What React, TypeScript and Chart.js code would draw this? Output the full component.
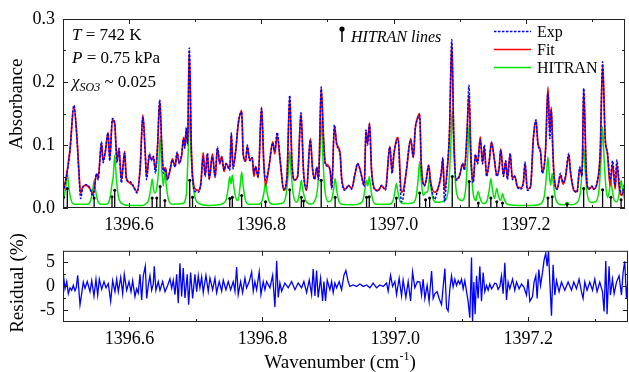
import React, { useEffect, useRef } from 'react';
import { Chart, registerables } from 'chart.js';

Chart.register(...registerables);

const SERIF = "'Liberation Serif', 'Times New Roman', Times, serif";
Chart.defaults.font.family = SERIF;
Chart.defaults.color = '#000';

// ---------------- data ----------------
const xTicks = [1396.5, 1396.6, 1396.7, 1396.8, 1396.9, 1397.0, 1397.1, 1397.2, 1397.3];
const xTickLabels = ['', '1396.6', '', '1396.8', '', '1397.0', '', '1397.2', ''];
const absTicks = [0, 0.05, 0.1, 0.15, 0.2, 0.25, 0.3];
const absTickLabels = ['0.0', '', '0.1', '', '0.2', '', '0.3'];
const resTicks = [-5, -2.5, 0, 2.5, 5];
const resTickLabels = ['-5', '', '0', '', '5'];

// Experimental absorbance [wavenumber, absorbance]
const expPoints: [number, number][] = [
  [1396.5000, 0.025], [1396.5045, 0.045], [1396.5105, 0.090], [1396.5165, 0.163], [1396.5211, 0.110],
  [1396.5241, 0.055], [1396.5266, 0.015], [1396.5301, 0.033], [1396.5353, 0.037], [1396.5406, 0.032],
  [1396.5456, 0.018], [1396.5507, 0.055], [1396.5531, 0.045], [1396.5582, 0.105], [1396.5606, 0.072],
  [1396.5642, 0.092], [1396.5681, 0.119], [1396.5707, 0.075], [1396.5747, 0.142], [1396.5782, 0.133],
  [1396.5817, 0.072], [1396.5847, 0.095], [1396.5883, 0.040], [1396.5907, 0.066], [1396.5932, 0.087],
  [1396.5958, 0.045], [1396.6008, 0.042], [1396.6053, 0.037], [1396.6083, 0.030], [1396.6120, 0.024],
  [1396.6168, 0.065], [1396.6208, 0.145], [1396.6244, 0.085], [1396.6263, 0.045], [1396.6308, 0.087],
  [1396.6334, 0.075], [1396.6368, 0.082], [1396.6398, 0.055], [1396.6429, 0.097], [1396.6463, 0.172],
  [1396.6493, 0.100], [1396.6519, 0.055], [1396.6549, 0.062], [1396.6579, 0.044], [1396.6620, 0.062],
  [1396.6654, 0.076], [1396.6695, 0.065], [1396.6725, 0.089], [1396.6759, 0.070], [1396.6794, 0.085],
  [1396.6824, 0.110], [1396.6842, 0.095], [1396.6865, 0.128], [1396.6884, 0.100], [1396.6910, 0.254],
  [1396.6944, 0.081], [1396.6974, 0.034], [1396.7000, 0.026], [1396.7045, 0.025], [1396.7086, 0.039],
  [1396.7120, 0.081], [1396.7150, 0.050], [1396.7185, 0.087], [1396.7211, 0.047], [1396.7260, 0.081],
  [1396.7301, 0.050], [1396.7335, 0.097], [1396.7372, 0.072], [1396.7402, 0.080], [1396.7436, 0.060],
  [1396.7466, 0.070], [1396.7522, 0.060], [1396.7546, 0.119], [1396.7571, 0.062], [1396.7612, 0.092],
  [1396.7651, 0.135], [1396.7702, 0.152], [1396.7726, 0.084], [1396.7762, 0.075], [1396.7787, 0.100],
  [1396.7823, 0.075], [1396.7862, 0.080], [1396.7887, 0.055], [1396.7913, 0.065], [1396.7952, 0.050],
  [1396.8003, 0.158], [1396.8038, 0.070], [1396.8063, 0.044], [1396.8113, 0.065], [1396.8173, 0.103],
  [1396.8203, 0.090], [1396.8238, 0.120], [1396.8289, 0.072], [1396.8338, 0.030], [1396.8388, 0.050],
  [1396.8429, 0.179], [1396.8463, 0.070], [1396.8504, 0.045], [1396.8549, 0.050], [1396.8599, 0.151],
  [1396.8639, 0.055], [1396.8684, 0.030], [1396.8740, 0.108], [1396.8775, 0.060], [1396.8805, 0.045],
  [1396.8839, 0.065], [1396.8865, 0.045], [1396.8905, 0.192], [1396.8940, 0.110], [1396.8966, 0.070],
  [1396.9005, 0.066], [1396.9041, 0.060], [1396.9065, 0.030], [1396.9105, 0.132], [1396.9140, 0.100],
  [1396.9191, 0.085], [1396.9215, 0.045], [1396.9266, 0.028], [1396.9316, 0.036], [1396.9366, 0.030],
  [1396.9417, 0.055], [1396.9456, 0.071], [1396.9492, 0.060], [1396.9516, 0.050], [1396.9557, 0.034],
  [1396.9582, 0.124], [1396.9606, 0.100], [1396.9636, 0.133], [1396.9666, 0.060], [1396.9717, 0.029],
  [1396.9767, 0.027], [1396.9817, 0.036], [1396.9877, 0.028], [1396.9943, 0.097], [1396.9978, 0.055],
  [1397.0003, 0.085], [1397.0042, 0.105], [1397.0068, 0.110], [1397.0117, 0.010], [1397.0143, 0.015],
  [1397.0193, 0.060], [1397.0259, 0.108], [1397.0298, 0.081], [1397.0328, 0.127], [1397.0358, 0.140],
  [1397.0394, 0.148], [1397.0418, 0.070], [1397.0469, 0.035], [1397.0493, 0.045], [1397.0530, 0.067],
  [1397.0560, 0.040], [1397.0620, 0.014], [1397.0669, 0.030], [1397.0719, 0.055], [1397.0745, 0.080],
  [1397.0770, 0.010], [1397.0809, 0.060], [1397.0845, 0.120], [1397.0880, 0.267], [1397.0910, 0.115],
  [1397.0945, 0.044], [1397.0996, 0.050], [1397.1045, 0.071], [1397.1071, 0.060], [1397.1110, 0.120],
  [1397.1140, 0.195], [1397.1170, 0.080], [1397.1206, 0.040], [1397.1236, 0.085], [1397.1271, 0.070],
  [1397.1311, 0.108], [1397.1346, 0.070], [1397.1372, 0.100], [1397.1406, 0.050], [1397.1447, 0.075],
  [1397.1481, 0.103], [1397.1522, 0.080], [1397.1561, 0.050], [1397.1597, 0.065], [1397.1621, 0.092],
  [1397.1662, 0.050], [1397.1696, 0.075], [1397.1722, 0.045], [1397.1763, 0.087], [1397.1797, 0.045],
  [1397.1832, 0.050], [1397.1872, 0.033], [1397.1922, 0.030], [1397.1963, 0.040], [1397.1988, 0.073],
  [1397.2023, 0.028], [1397.2072, 0.035], [1397.2113, 0.108], [1397.2154, 0.140], [1397.2184, 0.100],
  [1397.2223, 0.087], [1397.2248, 0.055], [1397.2298, 0.090], [1397.2334, 0.182], [1397.2364, 0.110],
  [1397.2384, 0.155], [1397.2409, 0.090], [1397.2424, 0.055], [1397.2474, 0.030], [1397.2524, 0.055],
  [1397.2564, 0.040], [1397.2599, 0.050], [1397.2650, 0.087], [1397.2674, 0.060], [1397.2725, 0.030],
  [1397.2775, 0.025], [1397.2815, 0.065], [1397.2850, 0.050], [1397.2875, 0.190], [1397.2915, 0.055],
  [1397.2951, 0.030], [1397.3000, 0.035], [1397.3026, 0.030], [1397.3075, 0.040], [1397.3125, 0.090],
  [1397.3161, 0.232], [1397.3200, 0.110], [1397.3236, 0.087], [1397.3275, 0.045], [1397.3312, 0.075],
  [1397.3351, 0.035], [1397.3376, 0.076], [1397.3417, 0.035], [1397.3451, 0.022], [1397.3497, 0.040],
];

// Fitted absorbance [wavenumber, absorbance]
const fitPoints: [number, number][] = [
  [1396.5000, 0.026], [1396.5045, 0.047], [1396.5105, 0.092], [1396.5165, 0.161], [1396.5211, 0.112],
  [1396.5241, 0.058], [1396.5266, 0.024], [1396.5301, 0.034], [1396.5353, 0.036], [1396.5406, 0.031],
  [1396.5456, 0.022], [1396.5507, 0.054], [1396.5531, 0.047], [1396.5582, 0.103], [1396.5606, 0.075],
  [1396.5642, 0.090], [1396.5681, 0.120], [1396.5707, 0.078], [1396.5747, 0.140], [1396.5782, 0.135],
  [1396.5817, 0.075], [1396.5847, 0.093], [1396.5883, 0.045], [1396.5907, 0.065], [1396.5932, 0.090],
  [1396.5958, 0.048], [1396.6008, 0.040], [1396.6053, 0.036], [1396.6083, 0.031], [1396.6120, 0.026],
  [1396.6168, 0.066], [1396.6208, 0.148], [1396.6244, 0.088], [1396.6263, 0.050], [1396.6308, 0.084],
  [1396.6334, 0.078], [1396.6368, 0.080], [1396.6398, 0.060], [1396.6429, 0.095], [1396.6463, 0.170],
  [1396.6493, 0.102], [1396.6519, 0.060], [1396.6549, 0.064], [1396.6579, 0.046], [1396.6620, 0.060],
  [1396.6654, 0.078], [1396.6695, 0.066], [1396.6725, 0.087], [1396.6759, 0.072], [1396.6794, 0.083],
  [1396.6824, 0.112], [1396.6842, 0.097], [1396.6865, 0.126], [1396.6884, 0.103], [1396.6910, 0.250],
  [1396.6944, 0.085], [1396.6974, 0.038], [1396.7000, 0.030], [1396.7045, 0.028], [1396.7086, 0.040],
  [1396.7120, 0.088], [1396.7150, 0.052], [1396.7185, 0.085], [1396.7211, 0.045], [1396.7260, 0.086],
  [1396.7301, 0.048], [1396.7335, 0.094], [1396.7372, 0.070], [1396.7402, 0.082], [1396.7436, 0.058],
  [1396.7466, 0.071], [1396.7522, 0.062], [1396.7546, 0.117], [1396.7571, 0.065], [1396.7612, 0.090],
  [1396.7651, 0.133], [1396.7702, 0.155], [1396.7726, 0.086], [1396.7762, 0.074], [1396.7787, 0.098],
  [1396.7823, 0.077], [1396.7862, 0.079], [1396.7887, 0.050], [1396.7913, 0.066], [1396.7952, 0.048],
  [1396.8003, 0.160], [1396.8038, 0.068], [1396.8063, 0.036], [1396.8113, 0.063], [1396.8173, 0.105],
  [1396.8203, 0.086], [1396.8238, 0.115], [1396.8289, 0.070], [1396.8338, 0.028], [1396.8388, 0.052],
  [1396.8429, 0.176], [1396.8463, 0.072], [1396.8504, 0.044], [1396.8549, 0.051], [1396.8599, 0.150],
  [1396.8639, 0.057], [1396.8684, 0.028], [1396.8740, 0.110], [1396.8775, 0.062], [1396.8805, 0.046],
  [1396.8839, 0.064], [1396.8865, 0.047], [1396.8905, 0.190], [1396.8940, 0.112], [1396.8966, 0.072],
  [1396.9005, 0.068], [1396.9041, 0.058], [1396.9065, 0.032], [1396.9105, 0.130], [1396.9140, 0.102],
  [1396.9191, 0.087], [1396.9215, 0.048], [1396.9266, 0.030], [1396.9316, 0.035], [1396.9366, 0.032],
  [1396.9417, 0.054], [1396.9456, 0.070], [1396.9492, 0.062], [1396.9516, 0.051], [1396.9557, 0.036],
  [1396.9582, 0.122], [1396.9606, 0.102], [1396.9636, 0.135], [1396.9666, 0.062], [1396.9717, 0.030],
  [1396.9767, 0.028], [1396.9817, 0.035], [1396.9877, 0.030], [1396.9943, 0.098], [1396.9978, 0.056],
  [1397.0003, 0.083], [1397.0042, 0.108], [1397.0068, 0.112], [1397.0117, 0.025], [1397.0143, 0.027],
  [1397.0193, 0.058], [1397.0259, 0.110], [1397.0298, 0.080], [1397.0328, 0.126], [1397.0358, 0.142],
  [1397.0394, 0.150], [1397.0418, 0.072], [1397.0469, 0.036], [1397.0493, 0.044], [1397.0530, 0.068],
  [1397.0560, 0.042], [1397.0620, 0.025], [1397.0669, 0.030], [1397.0719, 0.052], [1397.0745, 0.078],
  [1397.0770, 0.028], [1397.0809, 0.058], [1397.0845, 0.118], [1397.0880, 0.262], [1397.0910, 0.118],
  [1397.0945, 0.046], [1397.0996, 0.051], [1397.1045, 0.070], [1397.1071, 0.062], [1397.1110, 0.118],
  [1397.1140, 0.180], [1397.1170, 0.082], [1397.1206, 0.043], [1397.1236, 0.084], [1397.1271, 0.072],
  [1397.1311, 0.113], [1397.1346, 0.072], [1397.1372, 0.098], [1397.1406, 0.052], [1397.1447, 0.074],
  [1397.1481, 0.105], [1397.1522, 0.078], [1397.1561, 0.052], [1397.1597, 0.064], [1397.1621, 0.094],
  [1397.1662, 0.052], [1397.1696, 0.074], [1397.1722, 0.047], [1397.1763, 0.085], [1397.1797, 0.047],
  [1397.1832, 0.051], [1397.1872, 0.034], [1397.1922, 0.032], [1397.1963, 0.041], [1397.1988, 0.070],
  [1397.2023, 0.030], [1397.2072, 0.034], [1397.2113, 0.110], [1397.2154, 0.138], [1397.2184, 0.102],
  [1397.2223, 0.090], [1397.2248, 0.058], [1397.2298, 0.092], [1397.2334, 0.192], [1397.2364, 0.120],
  [1397.2384, 0.160], [1397.2409, 0.092], [1397.2424, 0.056], [1397.2474, 0.030], [1397.2524, 0.052],
  [1397.2564, 0.038], [1397.2599, 0.048], [1397.2650, 0.084], [1397.2674, 0.058], [1397.2725, 0.028],
  [1397.2775, 0.026], [1397.2815, 0.062], [1397.2850, 0.052], [1397.2875, 0.188], [1397.2915, 0.056],
  [1397.2951, 0.030], [1397.3000, 0.034], [1397.3026, 0.030], [1397.3075, 0.038], [1397.3125, 0.088],
  [1397.3161, 0.228], [1397.3200, 0.112], [1397.3236, 0.085], [1397.3275, 0.035], [1397.3312, 0.070],
  [1397.3351, 0.030], [1397.3376, 0.070], [1397.3417, 0.028], [1397.3451, 0.020], [1397.3497, 0.035],
];

// HITRAN simulated absorbance [wavenumber, absorbance]
const hitranPoints: [number, number][] = [
  [1396.5000, 0.011], [1396.5042, 0.033], [1396.5065, 0.055], [1396.5088, 0.033], [1396.5118, 0.014], [1396.5170, 0.006],
  [1396.5366, 0.006], [1396.5418, 0.012], [1396.5448, 0.027], [1396.5471, 0.044], [1396.5494, 0.027], [1396.5524, 0.012], [1396.5576, 0.006],
  [1396.5660, 0.006], [1396.5700, 0.012], [1396.5725, 0.025], [1396.5741, 0.038], [1396.5760, 0.050], [1396.5782, 0.084], [1396.5805, 0.050], [1396.5835, 0.020], [1396.5887, 0.007],
  [1396.6000, 0.004], [1396.6200, 0.004],
  [1396.6244, 0.006], [1396.6296, 0.013], [1396.6326, 0.029], [1396.6349, 0.046], [1396.6372, 0.028], [1396.6395, 0.024], [1396.6418, 0.032],
  [1396.6446, 0.060], [1396.6469, 0.113], [1396.6492, 0.065], [1396.6518, 0.035], [1396.6541, 0.057], [1396.6564, 0.034], [1396.6594, 0.014], [1396.6646, 0.006],
  [1396.6810, 0.007], [1396.6864, 0.020], [1396.6894, 0.090], [1396.6917, 0.148], [1396.6940, 0.085], [1396.6959, 0.045], [1396.6990, 0.020], [1396.7040, 0.008],
  [1396.7200, 0.004], [1396.7350, 0.005],
  [1396.7417, 0.007], [1396.7469, 0.014], [1396.7499, 0.032], [1396.7522, 0.050], [1396.7542, 0.038], [1396.7561, 0.052], [1396.7584, 0.034], [1396.7614, 0.016],
  [1396.7649, 0.012], [1396.7679, 0.035], [1396.7702, 0.057], [1396.7725, 0.035], [1396.7755, 0.014], [1396.7807, 0.006],
  [1396.7958, 0.006], [1396.8010, 0.011], [1396.8040, 0.025], [1396.8063, 0.040], [1396.8086, 0.025], [1396.8116, 0.011], [1396.8168, 0.006],
  [1396.8324, 0.008], [1396.8376, 0.022], [1396.8406, 0.055], [1396.8429, 0.090], [1396.8452, 0.055], [1396.8482, 0.022], [1396.8534, 0.009],
  [1396.8552, 0.011], [1396.8582, 0.028], [1396.8605, 0.044], [1396.8625, 0.030], [1396.8645, 0.020], [1396.8680, 0.010], [1396.8750, 0.006],
  [1396.8800, 0.010], [1396.8852, 0.033], [1396.8882, 0.085], [1396.8905, 0.140], [1396.8928, 0.085], [1396.8958, 0.032],
  [1396.9011, 0.010], [1396.9063, 0.013], [1396.9093, 0.030], [1396.9116, 0.047], [1396.9139, 0.029], [1396.9169, 0.012], [1396.9221, 0.006],
  [1396.9400, 0.005],
  [1396.9486, 0.007], [1396.9538, 0.013], [1396.9568, 0.030], [1396.9591, 0.044], [1396.9611, 0.035], [1396.9632, 0.050], [1396.9655, 0.031], [1396.9685, 0.013], [1396.9737, 0.006],
  [1396.9937, 0.006], [1396.9989, 0.011], [1397.0019, 0.025], [1397.0042, 0.039], [1397.0065, 0.025], [1397.0095, 0.011], [1397.0147, 0.007],
  [1397.0289, 0.008], [1397.0341, 0.018], [1397.0371, 0.045], [1397.0394, 0.074], [1397.0417, 0.045], [1397.0447, 0.020], [1397.0484, 0.025],
  [1397.0515, 0.026], [1397.0545, 0.050], [1397.0568, 0.030], [1397.0598, 0.014], [1397.0650, 0.009],
  [1397.0782, 0.012], [1397.0834, 0.036], [1397.0864, 0.095], [1397.0887, 0.156], [1397.0910, 0.094], [1397.0940, 0.035], [1397.0992, 0.014],
  [1397.1038, 0.012], [1397.1090, 0.030], [1397.1120, 0.080], [1397.1143, 0.132], [1397.1166, 0.080], [1397.1196, 0.030], [1397.1248, 0.012],
  [1397.1258, 0.018], [1397.1281, 0.026], [1397.1304, 0.017], [1397.1334, 0.009],
  [1397.1366, 0.007], [1397.1418, 0.013], [1397.1448, 0.030], [1397.1471, 0.047], [1397.1494, 0.030], [1397.1524, 0.015], [1397.1538, 0.020],
  [1397.1561, 0.031], [1397.1584, 0.020], [1397.1614, 0.012], [1397.1630, 0.015], [1397.1647, 0.023], [1397.1670, 0.015], [1397.1700, 0.008], [1397.1752, 0.005],
  [1397.1900, 0.004], [1397.2100, 0.004],
  [1397.2229, 0.007], [1397.2281, 0.020], [1397.2311, 0.050], [1397.2334, 0.081], [1397.2357, 0.050], [1397.2376, 0.036], [1397.2399, 0.055], [1397.2422, 0.034], [1397.2452, 0.014], [1397.2504, 0.006],
  [1397.2580, 0.005], [1397.2605, 0.007], [1397.2624, 0.009], [1397.2643, 0.007], [1397.2670, 0.005],
  [1397.2770, 0.008], [1397.2822, 0.023], [1397.2852, 0.060], [1397.2875, 0.097], [1397.2898, 0.059], [1397.2928, 0.023], [1397.2980, 0.009],
  [1397.3056, 0.010], [1397.3108, 0.030], [1397.3138, 0.078], [1397.3161, 0.129], [1397.3184, 0.078], [1397.3214, 0.030], [1397.3240, 0.017],
  [1397.3263, 0.027], [1397.3286, 0.044], [1397.3309, 0.027], [1397.3339, 0.012], [1397.3380, 0.010], [1397.3418, 0.027], [1397.3441, 0.044],
  [1397.3464, 0.028], [1397.3497, 0.012],
];

// HITRAN line positions and line heights [wavenumber, height]
const hitranLines: [number, number][] = [
  [1396.5008, 0.017], [1396.5065, 0.031], [1396.5471, 0.016], [1396.5741, 0.018], [1396.5782, 0.028],
  [1396.6349, 0.016], [1396.6418, 0.016], [1396.6469, 0.034], [1396.6541, 0.012], [1396.6917, 0.044],
  [1396.6959, 0.017], [1396.7522, 0.015], [1396.7561, 0.017], [1396.7702, 0.020], [1396.8063, 0.010],
  [1396.8429, 0.029], [1396.8605, 0.017], [1396.8639, 0.011], [1396.8905, 0.044], [1396.9116, 0.017],
  [1396.9591, 0.017], [1396.9632, 0.018], [1397.0042, 0.016], [1397.0394, 0.024], [1397.0484, 0.013],
  [1397.0545, 0.016], [1397.0887, 0.050], [1397.1143, 0.042], [1397.1281, 0.008], [1397.1471, 0.016],
  [1397.1561, 0.010], [1397.1647, 0.008], [1397.2334, 0.016], [1397.2399, 0.018], [1397.2624, 0.006],
  [1397.2875, 0.031], [1397.3161, 0.029], [1397.3286, 0.017], [1397.3441, 0.013],
];

// Residual (%) [wavenumber, residual]
const residualPoints: [number, number][] = [
  [1396.5005, 2.5], [1396.5030, -0.5], [1396.5056, 1], [1396.5080, -1.5], [1396.5105, -0.3], [1396.5131, -0.8],
  [1396.5155, 0.2], [1396.5180, -0.9], [1396.5200, -0.2], [1396.5221, 2.3], [1396.5256, -3.8], [1396.5281, -1.5],
  [1396.5305, 0.9], [1396.5331, -0.4], [1396.5365, 1], [1396.5406, -1.1], [1396.5432, 1.2], [1396.5466, -2],
  [1396.5496, 1.5], [1396.5522, -1.8], [1396.5546, 1.5], [1396.5582, -0.6], [1396.5617, 1], [1396.5647, -0.3],
  [1396.5681, 0.6], [1396.5717, -3.1], [1396.5747, 1.2], [1396.5782, -1.1], [1396.5808, 1.5], [1396.5832, -1.1],
  [1396.5868, 1.9], [1396.5898, -1.5], [1396.5922, 2.5], [1396.5958, -0.8], [1396.5993, 1], [1396.6023, -1.1],
  [1396.6048, 1.2], [1396.6083, -2.1], [1396.6108, -0.5], [1396.6132, -1.4], [1396.6158, 2.5], [1396.6183, -2.8],
  [1396.6208, 2.2], [1396.6238, 4.2], [1396.6259, -2.5], [1396.6283, 0.2], [1396.6308, 2.2], [1396.6334, -0.8],
  [1396.6358, 0.5], [1396.6373, 4.2], [1396.6398, -0.8], [1396.6433, 1], [1396.6459, -0.8], [1396.6499, 1],
  [1396.6534, -1.1], [1396.6574, 0.2], [1396.6609, 1.6], [1396.6635, -0.4], [1396.6659, 1.3], [1396.6684, -1.7],
  [1396.6710, 2.5], [1396.6734, -3.5], [1396.6759, 4.8], [1396.6785, -2.1], [1396.6809, 3.8], [1396.6835, -2.4],
  [1396.6869, 2.5], [1396.6890, -3.8], [1396.6920, 2.9], [1396.6950, -2.5], [1396.6985, 2.5], [1396.7011, -1.1],
  [1396.7035, 2.2], [1396.7060, -0.3], [1396.7086, 2], [1396.7110, -1.3], [1396.7150, 2.3], [1396.7185, -1],
  [1396.7211, 1.7], [1396.7251, -0.7], [1396.7286, 1.7], [1396.7311, -1.3], [1396.7350, 1], [1396.7387, -1],
  [1396.7411, 1.3], [1396.7451, -0.7], [1396.7486, 1], [1396.7522, -0.7], [1396.7561, 1], [1396.7587, -1],
  [1396.7612, 4], [1396.7636, -1.7], [1396.7672, 1], [1396.7702, -1.3], [1396.7737, 1.7], [1396.7762, -0.3],
  [1396.7802, 1], [1396.7838, 3], [1396.7862, -1], [1396.7887, 1], [1396.7913, -0.7], [1396.7952, 3],
  [1396.7978, -1.7], [1396.8012, 1], [1396.8038, -0.7], [1396.8063, 1], [1396.8113, -0.3], [1396.8154, 2.3],
  [1396.8188, -4.3], [1396.8214, 5.3], [1396.8238, -2.3], [1396.8263, 0.7], [1396.8289, -1], [1396.8338, 0.7],
  [1396.8388, -0.3], [1396.8439, 1], [1396.8489, -0.7], [1396.8538, 0.7], [1396.8590, -0.3], [1396.8624, 1],
  [1396.8665, -1.3], [1396.8704, 1.3], [1396.8740, -1.7], [1396.8764, 3.6], [1396.8790, -2], [1396.8815, 3.3],
  [1396.8839, -2.3], [1396.8875, 1.7], [1396.8905, -3], [1396.8925, 1], [1396.8950, -3], [1396.8975, 1.3],
  [1396.9015, -0.7], [1396.9041, 1], [1396.9065, -1.3], [1396.9090, 0.7], [1396.9116, -0.3], [1396.9155, 1],
  [1396.9191, -0.7], [1396.9226, 2.3], [1396.9256, 3.3], [1396.9290, 1], [1396.9316, 0], [1396.9366, 0.3],
  [1396.9417, 0], [1396.9466, 0.5], [1396.9516, 0], [1396.9567, 0.3], [1396.9617, -0.3], [1396.9666, 0.7],
  [1396.9717, -0.3], [1396.9767, 0.3], [1396.9817, 0], [1396.9868, 0.7], [1396.9892, -1], [1396.9928, 2.3],
  [1396.9958, 0], [1396.9993, 1], [1397.0018, -1.7], [1397.0057, 1.7], [1397.0093, -2], [1397.0117, 1.3],
  [1397.0158, -2.3], [1397.0193, 1], [1397.0229, -3], [1397.0259, 3], [1397.0293, -0.3], [1397.0331, 1],
  [1397.0369, 0.9], [1397.0394, -1.8], [1397.0418, 1.5], [1397.0444, -2.5], [1397.0478, 0.2], [1397.0508, -3.1],
  [1397.0545, 3.2], [1397.0569, -2.5], [1397.0594, -1.5], [1397.0629, -1.1], [1397.0659, -2.5], [1397.0695, -3.8],
  [1397.0745, 3.7], [1397.0770, -4.5], [1397.0794, -5.1], [1397.0820, -0.5], [1397.0845, 2.2], [1397.0869, -0.1],
  [1397.0895, 1.5], [1397.0920, 0.2], [1397.0945, 1.2], [1397.0970, 0.5], [1397.0996, 1.5], [1397.1020, -0.5],
  [1397.1045, 1.2], [1397.1071, -1.1], [1397.1095, -3.1], [1397.1120, -6.5], [1397.1146, 6], [1397.1161, -7.4],
  [1397.1181, 0.9], [1397.1200, -5.8], [1397.1221, 2.2], [1397.1245, -2.5], [1397.1271, 4.2], [1397.1296, -3.1],
  [1397.1321, 2.9], [1397.1346, -1.1], [1397.1372, 0.2], [1397.1396, -0.8], [1397.1421, 0.5], [1397.1447, -0.5],
  [1397.1471, 0], [1397.1496, 0.7], [1397.1522, 0.5], [1397.1546, -0.6], [1397.1572, 0], [1397.1597, 2.2],
  [1397.1621, -1.5], [1397.1647, 4.9], [1397.1672, -2.8], [1397.1696, 0.9], [1397.1722, -0.5], [1397.1763, 1.5],
  [1397.1797, -0.8], [1397.1823, 0.9], [1397.1862, -0.5], [1397.1898, 0.5], [1397.1932, -0.1], [1397.1973, -1.8],
  [1397.1997, 1.5], [1397.2023, -3.1], [1397.2063, -2.1], [1397.2087, 0.9], [1397.2113, 2.2], [1397.2133, -2.5],
  [1397.2158, 3.5], [1397.2184, 0.2], [1397.2214, 2.9], [1397.2238, 5.5], [1397.2263, 6.9], [1397.2283, 4.2],
  [1397.2304, 7.4], [1397.2324, 0.9], [1397.2349, -6.1], [1397.2373, 4.5], [1397.2399, -1.8], [1397.2424, 1.2],
  [1397.2463, -1.1], [1397.2499, 0.9], [1397.2549, -0.8], [1397.2599, 0.9], [1397.2650, -0.8], [1397.2684, 0.9],
  [1397.2725, -0.5], [1397.2764, 1.5], [1397.2800, -1.1], [1397.2824, -2.5], [1397.2850, 0.9], [1397.2884, -0.8],
  [1397.2925, 0.9], [1397.2966, -0.8], [1397.3000, 1.5], [1397.3035, -1.1], [1397.3075, 0.9], [1397.3116, -1.1],
  [1397.3140, -5.2], [1397.3166, 5.3], [1397.3185, -5.8], [1397.3215, 4.2], [1397.3236, -1.8], [1397.3266, 1.5],
  [1397.3291, -1.5], [1397.3327, 0.9], [1397.3366, 2.2], [1397.3402, -1.8], [1397.3426, 2.9], [1397.3451, 5.2],
  [1397.3477, -2.5], [1397.3497, 0.9],
];

// ---------------- helpers ----------------
const toXY = (pts: [number, number][]) => pts.map(([x, y]) => ({ x, y }));

type Run = { text: string; font: string; dy?: number };
function drawRuns(ctx: CanvasRenderingContext2D, x: number, y: number, runs: Run[]) {
  let cx = x;
  for (const r of runs) {
    ctx.font = r.font;
    ctx.fillText(r.text, cx, y + (r.dy || 0));
    cx += ctx.measureText(r.text).width;
  }
}

function framePlugin(yTicks: number[], yLabels: string[]) {
  return {
    id: 'frameTicks',
    afterDatasetsDraw(chart: any) {
      const { ctx, chartArea: a, scales } = chart;
      const xs = scales.x;
      const ys = scales.y;
      ctx.save();
      ctx.strokeStyle = '#222';
      ctx.lineWidth = 1;
      ctx.setLineDash([]);
      ctx.strokeRect(a.left + 0.5, a.top + 0.5, a.right - a.left - 1, a.bottom - a.top - 1);
      ctx.beginPath();
      xTicks.forEach((v, i) => {
        const len = xTickLabels[i] ? 5 : 3;
        const px = Math.round(xs.getPixelForValue(v)) + 0.5;
        ctx.moveTo(px, a.bottom);
        ctx.lineTo(px, a.bottom - len);
        ctx.moveTo(px, a.top);
        ctx.lineTo(px, a.top + len);
      });
      yTicks.forEach((v, i) => {
        const len = yLabels[i] ? 5 : 3;
        const py = Math.round(ys.getPixelForValue(v)) + 0.5;
        ctx.moveTo(a.left, py);
        ctx.lineTo(a.left + len, py);
        ctx.moveTo(a.right, py);
        ctx.lineTo(a.right - len, py);
      });
      ctx.stroke();
      ctx.restore();
    },
  };
}

function xAxis(height: number) {
  return {
    type: 'linear',
    min: 1396.5,
    max: 1397.35,
    afterBuildTicks: (s: any) => {
      s.ticks = xTicks.map((v) => ({ value: v }));
    },
    afterFit: (s: any) => {
      s.height = height;
    },
    grid: { display: false, drawTicks: false },
    border: { display: false },
    ticks: {
      autoSkip: false,
      maxRotation: 0,
      minRotation: 0,
      padding: 6,
      color: '#000',
      font: { family: SERIF, size: 18 },
      callback: (_v: any, i: number) => xTickLabels[i],
    },
  };
}

function yAxis(min: number, max: number, ticks: number[], labels: string[]) {
  return {
    type: 'linear',
    min,
    max,
    afterBuildTicks: (s: any) => {
      s.ticks = ticks.map((v) => ({ value: v }));
    },
    afterFit: (s: any) => {
      s.width = 63;
    },
    grid: { display: false, drawTicks: false },
    border: { display: false },
    ticks: {
      autoSkip: false,
      padding: 8,
      color: '#000',
      font: { family: SERIF, size: 18 },
      callback: (_v: any, i: number) => labels[i],
    },
  };
}

const topTextPlugin = {
  id: 'topText',
  afterDraw(chart: any) {
    const ctx: CanvasRenderingContext2D = chart.ctx;
    ctx.save();
    ctx.fillStyle = '#000';
    ctx.textBaseline = 'alphabetic';
    ctx.textAlign = 'left';
    const reg = `17px ${SERIF}`;
    const ital = `italic 17px ${SERIF}`;
    drawRuns(ctx, 72, 40, [{ text: 'T', font: ital }, { text: ' = 742 K', font: reg }]);
    drawRuns(ctx, 72, 63, [{ text: 'P', font: ital }, { text: ' = 0.75 kPa', font: reg }]);
    drawRuns(ctx, 72, 87, [
      { text: 'χ', font: ital },
      { text: 'SO3', font: `italic 12px ${SERIF}`, dy: 4 },
      { text: ' ~ 0.025', font: reg },
    ]);
    // HITRAN lines marker
    ctx.strokeStyle = '#000';
    ctx.lineWidth = 1.5;
    ctx.beginPath();
    ctx.moveTo(342, 29);
    ctx.lineTo(342, 42);
    ctx.stroke();
    ctx.beginPath();
    ctx.arc(342, 29, 2.6, 0, Math.PI * 2);
    ctx.fill();
    drawRuns(ctx, 351, 42, [{ text: 'HITRAN lines', font: `italic 16px ${SERIF}` }]);
    // legend
    const lx0 = 494;
    const lx1 = 531;
    ctx.lineWidth = 1.5;
    ctx.strokeStyle = '#0000ff';
    ctx.setLineDash([2.5, 1.5]);
    ctx.beginPath();
    ctx.moveTo(lx0, 31.5);
    ctx.lineTo(lx1, 31.5);
    ctx.stroke();
    ctx.setLineDash([]);
    ctx.strokeStyle = '#ff0000';
    ctx.lineWidth = 1.7;
    ctx.beginPath();
    ctx.moveTo(lx0, 49.5);
    ctx.lineTo(lx1, 49.5);
    ctx.stroke();
    ctx.strokeStyle = '#00e600';
    ctx.lineWidth = 1.5;
    ctx.beginPath();
    ctx.moveTo(lx0, 67.5);
    ctx.lineTo(lx1, 67.5);
    ctx.stroke();
    const lf = `16px ${SERIF}`;
    drawRuns(ctx, 537, 37, [{ text: 'Exp', font: lf }]);
    drawRuns(ctx, 537, 55, [{ text: 'Fit', font: lf }]);
    drawRuns(ctx, 537, 73, [{ text: 'HITRAN', font: lf }]);
    // y title
    ctx.translate(17, 104);
    ctx.rotate(-Math.PI / 2);
    ctx.textAlign = 'center';
    ctx.textBaseline = 'middle';
    ctx.font = `19px ${SERIF}`;
    ctx.fillText('Absorbance', 0, 0);
    ctx.restore();
  },
};

const bottomTextPlugin = {
  id: 'bottomText',
  afterDraw(chart: any) {
    const ctx: CanvasRenderingContext2D = chart.ctx;
    ctx.save();
    ctx.fillStyle = '#000';
    ctx.textAlign = 'left';
    ctx.textBaseline = 'alphabetic';
    const f = `19px ${SERIF}`;
    const fs = `12px ${SERIF}`;
    ctx.font = f;
    const w1 = ctx.measureText('Wavenumber (cm').width;
    const w3 = ctx.measureText(')').width;
    ctx.font = fs;
    const w2 = ctx.measureText('-1').width;
    const total = w1 + w2 + w3;
    const x0 = 340 - total / 2;
    drawRuns(ctx, x0, 136, [
      { text: 'Wavenumber (cm', font: f },
      { text: '-1', font: fs, dy: -8 },
      { text: ')', font: f },
    ]);
    ctx.translate(18, 51);
    ctx.rotate(-Math.PI / 2);
    ctx.textAlign = 'center';
    ctx.textBaseline = 'middle';
    ctx.font = `19px ${SERIF}`;
    ctx.fillText('Residual (%)', 0, 0);
    ctx.restore();
  },
};

export default function App() {
  const topRef = useRef<HTMLCanvasElement>(null);
  const botRef = useRef<HTMLCanvasElement>(null);

  useEffect(() => {
    const stemData: any[] = [];
    hitranLines.forEach(([x, h]) => {
      stemData.push({ x, y: 0 }, { x, y: h }, { x, y: null });
    });

    const top = new Chart(topRef.current as HTMLCanvasElement, {
      type: 'line',
      data: {
        datasets: [
          {
            label: 'Exp',
            data: toXY(expPoints),
            borderColor: '#0000ff',
            borderWidth: 1.5,
            borderDash: [2.5, 1.5],
            pointRadius: 0,
            cubicInterpolationMode: 'monotone',
            order: 0,
          },
          {
            label: 'Fit',
            data: toXY(fitPoints),
            borderColor: '#ff0000',
            borderWidth: 1.7,
            pointRadius: 0,
            cubicInterpolationMode: 'monotone',
            order: 1,
          },
          {
            label: 'HITRAN lines',
            data: stemData,
            borderColor: '#000',
            borderWidth: 1.3,
            pointRadius: 0,
            spanGaps: false,
            order: 2,
          },
          {
            label: 'HITRAN line heads',
            data: toXY(hitranLines),
            showLine: false,
            borderColor: '#000',
            backgroundColor: '#000',
            pointRadius: 1.5,
            pointBorderWidth: 0,
            order: 2,
          },
          {
            label: 'HITRAN',
            data: toXY(hitranPoints),
            borderColor: '#00e600',
            borderWidth: 1.5,
            pointRadius: 0,
            cubicInterpolationMode: 'monotone',
            order: 3,
          },
        ],
      },
      options: {
        responsive: false,
        animation: false,
        devicePixelRatio: 1,
        layout: { padding: { top: 19, right: 1, left: 0, bottom: 0 } },
        plugins: { legend: { display: false }, tooltip: { enabled: false } },
        scales: {
          x: xAxis(24),
          y: yAxis(0, 0.3, absTicks, absTickLabels),
        },
      } as any,
      plugins: [framePlugin(absTicks, absTickLabels), topTextPlugin],
    });

    const bottom = new Chart(botRef.current as HTMLCanvasElement, {
      type: 'line',
      data: {
        datasets: [
          {
            label: 'Residual',
            data: toXY(residualPoints),
            borderColor: '#0000ff',
            borderWidth: 1.3,
            pointRadius: 0,
            tension: 0,
          },
        ],
      },
      options: {
        responsive: false,
        animation: false,
        devicePixelRatio: 1,
        layout: { padding: { top: 15, right: 1, left: 0, bottom: 0 } },
        plugins: { legend: { display: false }, tooltip: { enabled: false } },
        scales: {
          x: xAxis(50),
          y: yAxis(-7.4, 7.4, resTicks, resTickLabels),
        },
      } as any,
      plugins: [framePlugin(resTicks, resTickLabels), bottomTextPlugin],
    });

    return () => {
      top.destroy();
      bottom.destroy();
    };
  }, []);

  return (
    <div style={{ position: 'absolute', left: 0, top: 0, width: 629, height: 372, background: '#fff' }}>
      <canvas ref={topRef} width={629} height={232} style={{ position: 'absolute', left: 0, top: 0 }} />
      <canvas ref={botRef} width={629} height={140} style={{ position: 'absolute', left: 0, top: 232 }} />
    </div>
  );
}
